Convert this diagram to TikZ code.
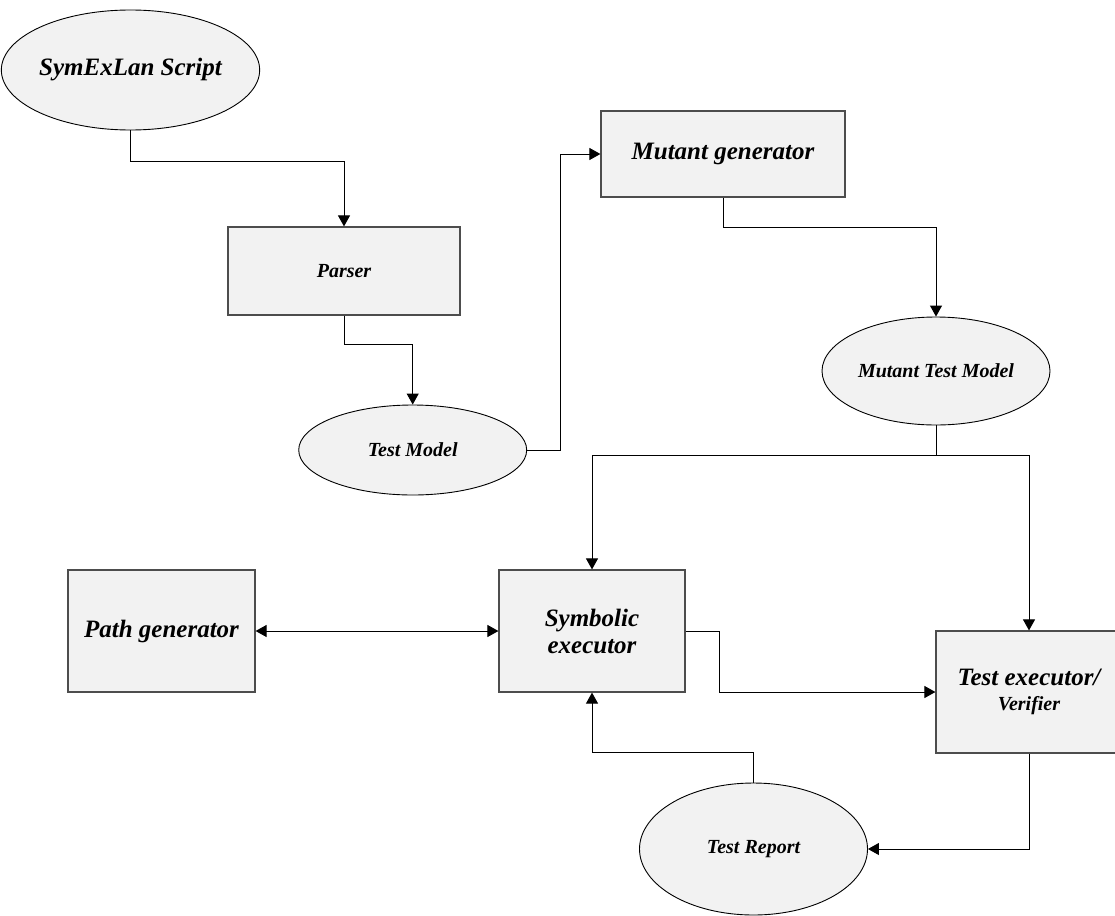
\documentclass[tikz,border=0pt]{standalone}
\usepackage{fontspec}
\setmainfont{Liberation Serif}
\usetikzlibrary{shapes.geometric,arrows.meta}
\definecolor{boxfill}{HTML}{F2F2F2}
\definecolor{boxline}{HTML}{4D4D4D}
\tikzset{
  rectbox/.style={draw=boxline, line width=1.2pt, fill=boxfill, inner sep=0pt, align=center},
  ellbox/.style={ellipse, draw=black, line width=0.9pt, fill=boxfill, inner sep=0pt, align=center},
  big/.style={font=\fontsize{25}{27}\selectfont\bfseries\itshape},
  small/.style={font=\fontsize{20}{24}\selectfont\bfseries\itshape},
  conn/.style={draw=black, line width=1pt},
  arr/.style={conn, -{Triangle[length=11pt,width=12pt]}},
  darr/.style={conn, {Triangle[length=11pt,width=12pt]}-{Triangle[length=11pt,width=12pt]}}
}
\begin{document}
\begin{tikzpicture}[x=1pt,y=-1pt]
\useasboundingbox (0,0) rectangle (1115,915);
\clip (0,0) rectangle (1115,915);
\fill[white] (0,0) rectangle (1115,915);

\node[ellbox, big, minimum width=242pt, minimum height=120pt] (sym) at (130.5,70) {SymExLan Script};
\node[rectbox, small, minimum width=232pt, minimum height=88pt] (parser) at (344,271) {Parser};
\node[ellbox, small, minimum width=228pt, minimum height=90pt] (tm) at (412.7,450) {Test Model};
\node[rectbox, big, minimum width=244pt, minimum height=86pt] (mg) at (723,154) {Mutant generator};
\node[ellbox, small, minimum width=228pt, minimum height=108pt] (mtm) at (936,371) {Mutant Test Model};
\node[rectbox, big, minimum width=187pt, minimum height=122pt] (pg) at (161.5,631) {Path generator};
\node[rectbox, big, minimum width=186pt, minimum height=122pt] (se) at (592,631) {Symbolic\\executor};
\node[rectbox, big, minimum width=186pt, minimum height=122pt] (te) at (1029,692) {Test executor/\\[-2pt]{\fontsize{20}{24}\selectfont Verifier}};
\node[ellbox, small, minimum width=228pt, minimum height=132pt] (tr) at (753.5,849) {Test Report};

\coordinate (j) at (936,455.5);

\draw[arr] (sym.south) -- ++(0,31) -| (parser.north);
\draw[arr] (parser.south) -- ++(0,29) -| (tm.north);
\draw[arr] (tm.east) -| ([xshift=-40.3pt]mg.west) -- (mg.west);
\draw[arr] (mg.south) -- ++(0,30) -| (mtm.north);
\draw[conn] (mtm.south) -- (j);
\draw[arr] (j) -| (se.north);
\draw[arr] (j) -| (te.north);
\draw[darr] (pg.east) -- (se.west);
\draw[arr] (se.east) -- ++(34,0) |- (te.west);
\draw[arr] (te.south) |- (tr.east);
\draw[arr] (tr.north) -- ++(0,-30) -| (se.south);
\end{tikzpicture}
\end{document}
